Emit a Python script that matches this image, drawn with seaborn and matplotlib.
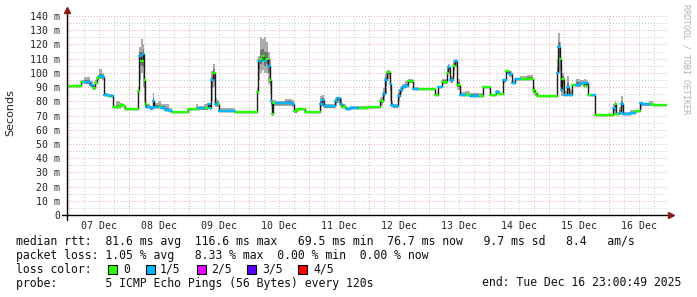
import numpy as np
import pandas as pd
import matplotlib
matplotlib.use("Agg")
import matplotlib.pyplot as plt
import seaborn as sns
from matplotlib.patches import Rectangle

# ---------------- data (hours since Dec 6 23:00:49) ----------------
hours = [0.0, 5.6, 6.8, 9.2, 10.4, 11.2, 12.0, 12.8, 14.0, 15.0, 16.4, 17.2, 18.4, 19.6,
         21.2, 22.4, 23.2, 28.4, 28.8, 29.8, 30.4, 30.8, 31.2, 31.8, 33.2, 34.4, 35.0,
         36.4, 37.6, 39.2, 40.8, 42.0, 48.4, 51.6, 52.4, 54.8, 56.4, 57.2, 57.8, 58.4,
         59.2, 60.0, 60.8, 67.2, 76.0, 76.6, 77.2, 78.0, 78.8, 79.6, 80.4, 81.2, 81.6,
         82.0, 82.6, 83.6, 87.2, 90.0, 90.8, 92.0, 95.2, 101.2, 102.0, 102.8, 107.2,
         108.0, 109.2, 110.0, 111.6, 113.2, 116.4, 120.0, 125.2, 126.4, 127.2, 128.0,
         129.2, 129.6, 130.4, 132.4, 133.2, 134.0, 135.2, 136.4, 138.4, 140.4, 147.2,
         148.4, 150.0, 152.0, 152.4, 153.2, 154.4, 155.2, 156.0, 157.2, 159.2, 161.2,
         164.4, 166.4, 169.2, 171.6, 172.8, 174.4, 175.6, 176.8, 178.0, 179.2, 181.2,
         184.0, 186.4, 187.2, 188.0, 196.0, 196.6, 197.2, 197.8, 198.2, 198.8, 200.0,
         200.8, 202.0, 203.6, 205.2, 206.8, 207.6, 208.4, 210.0, 211.2, 218.4, 219.2,
         219.6, 220.8, 221.6, 222.4, 225.2, 227.2, 229.2, 230.0, 232.8, 234.4]
median_ms = [91.0, 93.8, 93.5, 91.5, 89.0, 93.0, 96.5, 97.5, 97.0, 84.4, 84.0, 84.0, 76.0, 76.0,
             77.5, 77.0, 74.6, 87.0, 112.0, 108.0, 113.0, 95.0, 78.0, 76.0, 75.0, 80.0, 76.0,
             76.0, 75.5, 74.0, 73.3, 72.3, 74.6, 74.6, 75.0, 75.0, 78.0, 75.0, 95.0, 100.0,
             78.0, 78.0, 73.3, 72.3, 86.8, 108.0, 110.0, 112.0, 108.0, 110.0, 105.0, 95.0, 80.0,
             71.0, 78.6, 78.6, 79.0, 78.0, 73.0, 74.6, 72.8, 78.0, 81.0, 76.4, 80.0,
             82.0, 78.0, 76.0, 74.5, 75.3, 75.3, 75.7, 80.0, 85.0, 95.0, 100.9,
             92.0, 77.6, 76.4, 84.0, 88.0, 90.3, 91.0, 94.3, 88.6, 88.6, 84.4,
             90.3, 93.8, 100.0, 104.4, 95.0, 105.0, 108.5, 91.5, 84.4, 84.4, 84.0,
             84.0, 90.3, 84.4, 86.8, 85.0, 95.0, 101.0, 99.0, 92.6, 95.7, 95.7,
             95.7, 88.0, 85.6, 83.7, 100.0, 118.0, 110.0, 88.0, 96.0, 84.4, 90.0,
             84.4, 91.5, 91.5, 92.6, 91.0, 93.0, 84.4, 84.4, 70.4, 75.0, 77.8,
             71.0, 72.0, 77.8, 71.0, 71.5, 73.3, 78.6, 77.8, 77.8, 77.2]
smoke_hi_ms = [91.5, 95.0, 97.0, 94.0, 91.0, 95.0, 98.0, 102.5, 100.0, 86.0, 85.0, 85.0, 77.0, 80.0,
               79.0, 78.0, 75.5, 90.0, 118.0, 124.0, 120.0, 105.0, 84.0, 78.0, 77.0, 86.0, 79.0,
               80.0, 78.0, 78.0, 75.0, 73.0, 75.5, 78.0, 76.5, 78.0, 79.0, 77.0, 101.0, 106.0,
               82.0, 81.0, 75.0, 73.0, 90.0, 112.0, 125.0, 124.0, 125.0, 122.0, 115.0, 110.0, 90.0,
               76.0, 81.0, 80.0, 81.6, 81.0, 75.0, 75.5, 73.3, 84.0, 84.5, 78.0, 82.0,
               83.0, 82.0, 78.0, 76.0, 77.0, 76.5, 76.5, 83.0, 89.0, 100.0, 102.0,
               98.0, 80.0, 78.0, 88.0, 90.0, 92.0, 94.0, 96.0, 90.0, 89.5, 86.0,
               91.0, 96.0, 105.0, 106.0, 98.0, 109.0, 110.0, 96.0, 86.5, 87.0, 86.0,
               85.5, 91.0, 85.0, 88.0, 86.0, 96.0, 102.0, 101.0, 94.0, 96.5, 98.0,
               98.5, 91.0, 86.0, 84.2, 110.0, 127.8, 122.0, 96.0, 100.0, 87.0, 98.0,
               88.0, 92.5, 96.0, 95.0, 96.0, 95.0, 85.0, 85.0, 71.0, 78.0, 80.0,
               72.0, 76.0, 84.0, 72.5, 74.0, 74.0, 79.0, 79.0, 80.0, 77.8]
smoke_lo_ms = [90.5, 93.0, 92.0, 90.0, 88.0, 92.0, 95.0, 96.0, 95.0, 83.5, 83.0, 83.0, 75.5, 75.5,
               76.5, 76.0, 74.0, 80.0, 95.0, 100.0, 90.0, 80.0, 76.0, 75.0, 74.0, 75.0, 75.0,
               75.0, 74.5, 73.0, 72.5, 72.0, 74.0, 74.0, 74.0, 74.0, 75.0, 74.0, 80.0, 90.0,
               76.0, 76.0, 72.5, 72.0, 80.0, 95.0, 100.0, 102.0, 100.0, 100.0, 92.0, 85.0, 76.0,
               70.0, 77.0, 77.0, 77.0, 76.0, 72.0, 74.0, 72.4, 76.0, 77.0, 75.5, 77.0,
               79.0, 76.0, 75.0, 74.0, 74.5, 74.5, 75.0, 77.0, 80.0, 85.0, 96.0,
               80.0, 76.0, 75.5, 80.0, 85.0, 89.0, 90.0, 93.0, 88.0, 88.0, 84.0,
               89.0, 92.0, 95.0, 100.0, 93.0, 98.0, 104.0, 88.0, 84.0, 84.0, 83.5,
               83.0, 89.5, 84.0, 86.0, 84.5, 93.0, 99.0, 97.0, 92.0, 95.0, 95.0,
               95.0, 85.0, 84.0, 83.3, 85.0, 100.0, 90.0, 84.0, 84.0, 83.5, 84.0,
               83.5, 91.0, 90.0, 91.5, 90.0, 91.5, 84.0, 84.0, 70.0, 70.0, 72.0,
               70.5, 71.0, 73.0, 70.5, 71.0, 73.0, 75.0, 77.0, 77.0, 76.8]
loss_fifths = [0, 0, 1, 1, 0, 0, 0, 1, 1, 1, 0, 1, 0, 0,
               0, 0, 0, 0, 1, 0, 1, 0, 0, 1, 1, 1, 1,
               0, 1, 1, 1, 0, 0, 0, 1, 0, 1, 1, 1, 0,
               1, 0, 1, 0, 0, 1, 0, 0, 1, 0, 1, 0, 1,
               0, 0, 1, 1, 1, 0, 0, 0, 1, 1, 1, 1,
               1, 1, 0, 1, 1, 0, 0, 0, 1, 1, 0,
               1, 1, 1, 1, 1, 1, 1, 0, 1, 0, 0,
               1, 0, 0, 1, 1, 0, 1, 0, 1, 0, 1,
               0, 0, 0, 1, 0, 1, 0, 1, 1, 1, 0,
               0, 0, 0, 0, 1, 1, 0, 1, 0, 1, 1,
               1, 0, 1, 1, 0, 1, 0, 1, 0, 1, 0,
               0, 1, 1, 1, 1, 0, 1, 1, 0, 0]
end_hour = 239.8

day_labels = ["07 Dec", "08 Dec", "09 Dec", "10 Dec", "11 Dec",
              "12 Dec", "13 Dec", "14 Dec", "15 Dec", "16 Dec"]
y_ticks = [0, 10, 20, 30, 40, 50, 60, 70, 80, 90, 100, 110, 120, 130, 140]
y_tick_labels = ["0", "10 m", "20 m", "30 m", "40 m", "50 m", "60 m", "70 m",
                 "80 m", "90 m", "100 m", "110 m", "120 m", "130 m", "140 m"]
loss_names = ["0", "1/5", "2/5", "3/5", "4/5"]
loss_colors = ["#26ff00", "#00b8ff", "#dd00ff", "#5500ff", "#ff0000"]

# ---------------- figure ----------------
sns.set_style("white")
plt.rcParams['font.family'] = ['DejaVu Sans Mono', 'DejaVu Sans']

W, H = 697, 297
fig = plt.figure(figsize=(W / 100, H / 100), dpi=100)
fig.patch.set_facecolor("white")
ax = fig.add_axes([66.5 / W, 82 / H, 600 / W, 199 / H])
ax.set_facecolor("white")
ax.set_xlim(0, 240)
ax.set_ylim(0, 140)
for s in ax.spines.values():
    s.set_visible(False)

# grid
dot = (0, (1, 2))
grid_gray = "#c8c8c8"
grid_red = "#e8a8a8"
for v in range(5, 140, 10):
    ax.axhline(v, color=grid_gray, lw=0.7, ls=dot, zorder=0)
for v in range(10, 141, 10):
    ax.axhline(v, color=grid_red, lw=0.7, ls=dot, zorder=0)
day0 = 0.986
for k in range(0, 41):
    h = day0 + 6 * k
    if h > 240:
        break
    if k % 4 == 0:
        ax.axvline(h, color=grid_red, lw=0.7, ls=dot, zorder=0)
    else:
        ax.axvline(h, color=grid_gray, lw=0.7, ls=dot, zorder=0)

# smoke
x_ext = np.array(hours + [end_hour])
med = np.array(median_ms + [median_ms[-1]])
hi = np.array(smoke_hi_ms + [smoke_hi_ms[-1]])
lo = np.array(smoke_lo_ms + [smoke_lo_ms[-1]])
ax.fill_between(x_ext, lo, hi, step="post", color="#ababab", lw=0, zorder=1)
ax.fill_between(x_ext, med - 0.4 * (med - lo), med + 0.4 * (hi - med),
                step="post", color="#727272", lw=0, zorder=1)

# median (black connector)
sns.lineplot(x=x_ext, y=med, drawstyle="steps-post", color="#1a1a1a", lw=1.0,
             estimator=None, ax=ax, zorder=2)

# loss-coloured median segments
rows = []
for i, h in enumerate(hours):
    h2 = hours[i + 1] if i + 1 < len(hours) else end_hour
    name = loss_names[loss_fifths[i]]
    rows.append((i, h, median_ms[i], name))
    rows.append((i, h2, median_ms[i], name))
seg = pd.DataFrame(rows, columns=["seg", "t", "ms", "loss"])
sns.lineplot(data=seg, x="t", y="ms", hue="loss", units="seg", estimator=None,
             palette=dict(zip(loss_names, loss_colors)), lw=1.7, legend=False,
             sort=False, ax=ax, zorder=3)

# ticks
ax.set_xticks([day0 + 12 + 24 * k for k in range(10)])
ax.set_xticklabels(day_labels, fontsize=7.1, family="DejaVu Sans Mono")
ax.set_yticks(y_ticks)
ax.set_yticklabels(y_tick_labels, fontsize=7.1, family="DejaVu Sans Mono")
ax.tick_params(axis="x", length=0, pad=4.5, colors="#222222")
ax.tick_params(axis="y", length=0, pad=4.5, colors="#222222")
ax.set_xlabel("")
ax.set_ylabel("")

# axes lines with arrows
ax.plot([-1.8, 241.6], [0, 0], color="black", lw=1.0, clip_on=False, zorder=4)
ax.plot([0, 0], [-3.5, 143.5], color="black", lw=1.0, clip_on=False, zorder=4)
ax.plot([241.8], [0], marker=">", color="#8b1a1a", ms=4, clip_on=False, zorder=5)
ax.plot([0], [144.0], marker="^", color="#8b1a1a", ms=4, clip_on=False, zorder=5)

# y label
fig.text(10 / W, 1 - 113 / H, "Seconds", rotation=90, ha="center", va="center",
         fontsize=8, family="DejaVu Sans", color="#222222")
# watermark
fig.text(686 / W, 1 - 59 / H, "RRDTOOL / TOBI OETIKER", rotation=270, ha="center",
         va="center", fontsize=6, family="DejaVu Sans Mono", color="#b0b0b0")

# legend text
fs = 8.3
def ftxt(x, y, s, ha="left"):
    fig.text(x / W, 1 - y / H, s, ha=ha, va="center", fontsize=fs,
             family="DejaVu Sans Mono", color="#111111")

ftxt(16, 241.5, "median rtt:  81.6 ms avg  116.6 ms max   69.5 ms min  76.7 ms now   9.7 ms sd   8.4   am/s")
ftxt(16, 255, "packet loss: 1.05 % avg   8.33 % max  0.00 % min  0.00 % now")
ftxt(16, 269.5, "loss color:")
ftxt(16, 283, "probe:       5 ICMP Echo Pings (56 Bytes) every 120s")
ftxt(681, 283, "end: Tue Dec 16 23:00:49 2025", ha="right")

sq_x = [108, 146, 197, 247, 298]
lab_x = [123, 160, 211, 262, 313]
for sx, lx, name, c in zip(sq_x, lab_x, loss_names, loss_colors):
    fig.add_artist(Rectangle((sx / W, 1 - 274 / H), 9 / W, 9 / H,
                             transform=fig.transFigure, facecolor=c,
                             edgecolor="black", lw=0.8))
    ftxt(lx, 269.5, name)

fig.savefig("out.png", dpi=100, facecolor="white")
